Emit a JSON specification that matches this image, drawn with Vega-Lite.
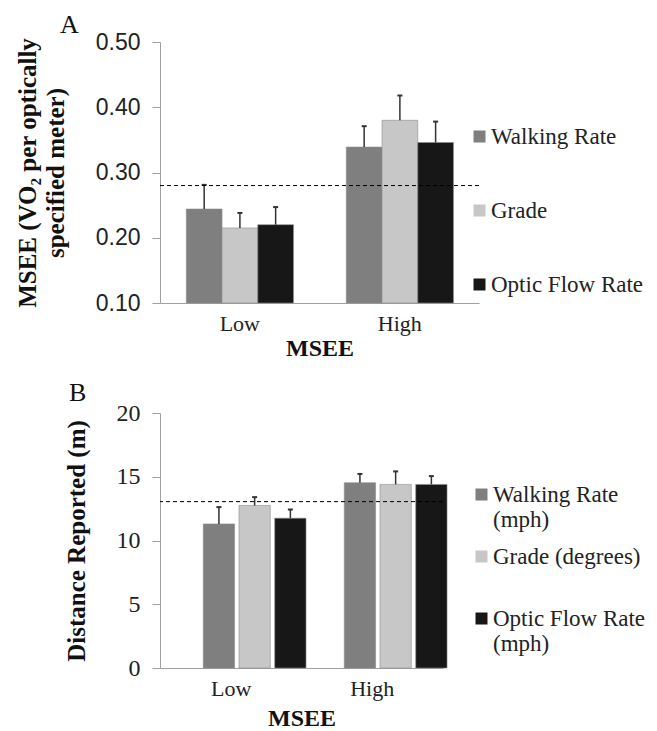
{
  "$schema": "https://vega.github.io/schema/vega-lite/v6.json",
  "padding": {"left": 15, "top": 12, "right": 5, "bottom": 5},
  "background": "white",
  "config": {"view": {"stroke": null}, "font": "Liberation Serif", "concat": {"spacing": 20}},
  "resolve": {"scale": {"color": "independent"}, "legend": {"color": "independent"}},
  "vconcat": [
    {
      "width": 319,
      "height": 261,
      "title": {"text": "A", "anchor": "start", "frame": "group", "dx": -100, "fontSize": 26, "fontWeight": "normal", "font": "Liberation Serif", "color": "#111", "offset": -7},
      "data": {"values": [
        {"MSEE": "Low", "Condition": "Walking Rate", "mean": 0.244, "upper": 0.281},
        {"MSEE": "Low", "Condition": "Grade", "mean": 0.215, "upper": 0.238},
        {"MSEE": "Low", "Condition": "Optic Flow Rate", "mean": 0.220, "upper": 0.247},
        {"MSEE": "High", "Condition": "Walking Rate", "mean": 0.339, "upper": 0.371},
        {"MSEE": "High", "Condition": "Grade", "mean": 0.380, "upper": 0.418},
        {"MSEE": "High", "Condition": "Optic Flow Rate", "mean": 0.346, "upper": 0.378}
      ]},
      "layer": [
        {
          "mark": {"type": "bar", "stroke": "#8c8c8c", "strokeWidth": 0.6, "width": 35.7},
          "encoding": {
            "x": {"field": "MSEE", "type": "nominal", "sort": ["Low", "High"], "scale": {"type": "band", "paddingInner": 0.33, "paddingOuter": 0.162, "align": 0.68},
              "axis": {"labelAngle": 0, "labelOffset": -9, "labelFont": "Liberation Serif", "labelFontSize": 22, "labelColor": "#222", "ticks": false, "domainColor": "#a0a0a0", "labelPadding": 10, "titleFont": "Liberation Serif", "titleFontSize": 24, "titleFontWeight": "bold", "titleColor": "#111", "titlePadding": 2},
              "title": "MSEE"},
            "xOffset": {"field": "Condition", "type": "nominal", "sort": ["Walking Rate", "Grade", "Optic Flow Rate"], "scale": {"type": "band", "paddingInner": 0, "paddingOuter": 0}},
            "y": {"field": "mean", "type": "quantitative", "scale": {"domain": [0.1, 0.5], "nice": false, "zero": false},
              "axis": {"values": [0.1, 0.2, 0.3, 0.4, 0.5], "format": ".2f", "labelFont": "Liberation Sans", "labelFontSize": 23, "labelColor": "#222", "domainColor": "#a0a0a0", "tickColor": "#a0a0a0", "tickSize": 8, "labelPadding": 12, "grid": false, "titleFont": "Liberation Serif", "titleFontSize": 25, "titleFontWeight": "bold", "titleLineHeight": 28, "titlePadding": 27, "titleColor": "#111"},
              "title": ["MSEE (VO₂ per optically", "specified meter)"]},
            "y2": {"datum": 0.1},
            "color": {"field": "Condition", "type": "nominal", "sort": ["Walking Rate", "Grade", "Optic Flow Rate"],
              "scale": {"domain": ["Walking Rate", "Grade", "Optic Flow Rate"], "range": ["#7f7f7f", "#c6c7c6", "#171717"]},
              "legend": {"orient": "none", "legendX": 308, "legendY": 83, "title": null, "symbolType": "square", "symbolSize": 144, "symbolStrokeWidth": 0, "labelFont": "Liberation Serif", "labelFontSize": 23, "labelColor": "#222", "rowPadding": 50, "labelOffset": 0, "labelLimit": 300, "padding": 0, "gridAlign": "all"}}
          }
        },
        {
          "mark": {"type": "rule", "color": "#333", "strokeWidth": 1.5},
          "encoding": {
            "x": {"field": "MSEE", "type": "nominal", "sort": ["Low", "High"]},
            "xOffset": {"field": "Condition", "type": "nominal", "sort": ["Walking Rate", "Grade", "Optic Flow Rate"]},
            "y": {"field": "mean", "type": "quantitative"},
            "y2": {"field": "upper"}
          }
        },
        {
          "mark": {"type": "point", "shape": "M-0.5,0H0.5", "size": 100, "filled": false, "color": "#333", "strokeWidth": 2, "opacity": 1},
          "encoding": {
            "x": {"field": "MSEE", "type": "nominal", "sort": ["Low", "High"]},
            "xOffset": {"field": "Condition", "type": "nominal", "sort": ["Walking Rate", "Grade", "Optic Flow Rate"]},
            "y": {"field": "upper", "type": "quantitative"}
          }
        },
        {
          "data": {"values": [{"ref": 0.28}]},
          "mark": {"type": "rule", "strokeDash": [4, 3], "color": "#000", "strokeWidth": 1},
          "encoding": {"y": {"field": "ref", "type": "quantitative"}}
        }
      ]
    },
    {
      "width": 283,
      "height": 255,
      "title": {"text": "B", "anchor": "start", "frame": "group", "dx": -91, "fontSize": 26, "fontWeight": "normal", "font": "Liberation Serif", "color": "#111", "offset": -5},
      "data": {"values": [
        {"MSEE": "Low", "Condition": "Walking Rate (mph)", "mean": 11.3, "upper": 12.62},
        {"MSEE": "Low", "Condition": "Grade (degrees)", "mean": 12.75, "upper": 13.4},
        {"MSEE": "Low", "Condition": "Optic Flow Rate (mph)", "mean": 11.75, "upper": 12.43},
        {"MSEE": "High", "Condition": "Walking Rate (mph)", "mean": 14.53, "upper": 15.22},
        {"MSEE": "High", "Condition": "Grade (degrees)", "mean": 14.4, "upper": 15.42},
        {"MSEE": "High", "Condition": "Optic Flow Rate (mph)", "mean": 14.4, "upper": 15.05}
      ]},
      "layer": [
        {
          "mark": {"type": "bar", "stroke": "#8c8c8c", "strokeWidth": 0.6, "width": 31.3},
          "encoding": {
            "x": {"field": "MSEE", "type": "nominal", "sort": ["Low", "High"], "scale": {"type": "band", "paddingInner": 0.333, "paddingOuter": 0.17, "align": 0.67},
              "axis": {"labelAngle": 0, "labelOffset": -8, "labelFont": "Liberation Serif", "labelFontSize": 22, "labelColor": "#222", "ticks": false, "domainColor": "#a0a0a0", "labelPadding": 10, "titleFont": "Liberation Serif", "titleFontSize": 24, "titleFontWeight": "bold", "titleColor": "#111", "titlePadding": 7},
              "title": "MSEE"},
            "xOffset": {"field": "Condition", "type": "nominal", "sort": ["Walking Rate (mph)", "Grade (degrees)", "Optic Flow Rate (mph)"], "scale": {"type": "band", "paddingInner": 0, "paddingOuter": 0}},
            "y": {"field": "mean", "type": "quantitative", "scale": {"domain": [0, 20], "nice": false},
              "axis": {"values": [0, 5, 10, 15, 20], "labelFont": "Liberation Serif", "labelFontSize": 24, "labelColor": "#222", "domainColor": "#a0a0a0", "tickColor": "#a0a0a0", "tickSize": 8, "labelPadding": 12, "grid": false, "titleFont": "Liberation Serif", "titleFontSize": 25, "titleFontWeight": "bold", "titlePadding": 27, "titleColor": "#111"},
              "title": "Distance Reported (m)"},
            "color": {"field": "Condition", "type": "nominal", "sort": ["Walking Rate (mph)", "Grade (degrees)", "Optic Flow Rate (mph)"],
              "scale": {"domain": ["Walking Rate (mph)", "Grade (degrees)", "Optic Flow Rate (mph)"], "range": ["#7f7f7f", "#c6c7c6", "#171717"]},
              "legend": {"orient": "none", "legendX": 310, "legendY": 70, "title": null, "symbolType": "square", "symbolSize": 144, "symbolStrokeWidth": 0, "labelFont": "Liberation Serif", "labelFontSize": 23, "labelColor": "#222", "rowPadding": 13, "labelOffset": 0, "labelLimit": 300, "padding": 0, "gridAlign": "all",
                "labelExpr": "split(replace(datum.label, ' (mph)', '|(mph)'), '|')"}}
          }
        },
        {
          "mark": {"type": "rule", "color": "#333", "strokeWidth": 1.5},
          "encoding": {
            "x": {"field": "MSEE", "type": "nominal", "sort": ["Low", "High"]},
            "xOffset": {"field": "Condition", "type": "nominal", "sort": ["Walking Rate (mph)", "Grade (degrees)", "Optic Flow Rate (mph)"]},
            "y": {"field": "mean", "type": "quantitative"},
            "y2": {"field": "upper"}
          }
        },
        {
          "mark": {"type": "point", "shape": "M-0.5,0H0.5", "size": 100, "filled": false, "color": "#333", "strokeWidth": 2, "opacity": 1},
          "encoding": {
            "x": {"field": "MSEE", "type": "nominal", "sort": ["Low", "High"]},
            "xOffset": {"field": "Condition", "type": "nominal", "sort": ["Walking Rate (mph)", "Grade (degrees)", "Optic Flow Rate (mph)"]},
            "y": {"field": "upper", "type": "quantitative"}
          }
        },
        {
          "data": {"values": [{"ref": 13.05}]},
          "mark": {"type": "rule", "strokeDash": [4, 3], "color": "#000", "strokeWidth": 1},
          "encoding": {"y": {"field": "ref", "type": "quantitative"}}
        }
      ]
    }
  ]
}
